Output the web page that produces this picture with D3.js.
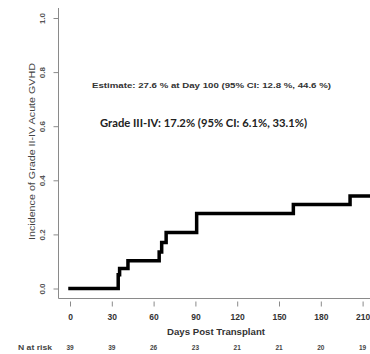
<!DOCTYPE html>
<html><head><meta charset="utf-8">
<script src="https://cdn.jsdelivr.net/npm/d3@7"></script>
<style>body{margin:0;background:#fff;} svg{display:block;}</style>
</head><body>
<svg id="c" width="370" height="354"></svg>
<script>
const xTicks = [0, 30, 60, 90, 120, 150, 180, 210];
const yTicks = [0.0, 0.2, 0.4, 0.6, 0.8, 1.0];
const nAtRisk = [39, 39, 26, 23, 21, 21, 20, 19];
const stepDays = [0, 34.6, 35.6, 41.6, 64, 65.8, 69, 90.9, 160.3, 201, 220];
const stepValues = [0, 0.051, 0.074, 0.103, 0.135, 0.17, 0.207, 0.277, 0.311, 0.342, 0.342];
const estimateText = "Estimate: 27.6 % at Day 100  (95% CI: 12.8 %, 44.6 %)";
const gradeText = "Grade III-IV: 17.2% (95% CI: 6.1%, 33.1%)";
const xTitle = "Days Post Transplant";
const yTitle = "Incidence of Grade II-IV Acute GVHD";
const riskLabel = "N at risk";

const svg = d3.select("#c");
const x = d3.scaleLinear().domain([0, 210]).range([70, 362.6]);
const y = d3.scaleLinear().domain([0, 1]).range([288.5, 18]);
const SANS = "Liberation Sans, Arial, sans-serif";

// L-shaped frame
svg.append("line").attr("x1", 58.5).attr("x2", 58.5).attr("y1", 8).attr("y2", 298.5)
  .attr("stroke", "#8a8a8a").attr("stroke-width", 1);
svg.append("line").attr("x1", 58.5).attr("x2", 370).attr("y1", 298.5).attr("y2", 298.5)
  .attr("stroke", "#8a8a8a").attr("stroke-width", 1);

// y axis ticks & labels
const yAxis = d3.axisLeft(y).tickValues(yTicks).tickSize(5).tickFormat(d3.format(".1f"));
const gy = svg.append("g").attr("transform", "translate(58.5,0)").call(yAxis);
gy.select(".domain").remove();
gy.selectAll(".tick line").attr("stroke", "#8a8a8a");
gy.selectAll(".tick text").remove();
gy.selectAll(".tick").append("text")
  .attr("transform", "translate(-16,0) rotate(-90)")
  .attr("text-anchor", "middle").attr("dy", "0.35em")
  .attr("font-family", SANS).attr("font-size", 8).attr("font-weight", "bold")
  .attr("fill", "#555").text(d => d3.format(".1f")(d));

// x axis ticks & labels
const xAxis = d3.axisBottom(x).tickValues(xTicks).tickSize(5).tickFormat(d3.format("d"));
const gx = svg.append("g").attr("transform", "translate(0,301.5)").call(xAxis);
gx.select(".domain").remove();
gx.selectAll(".tick line").attr("stroke", "#8a8a8a");
gx.selectAll(".tick text").attr("y", 0).attr("dy", "0").attr("transform", "translate(0,18.5)")
  .attr("font-family", SANS).attr("font-size", 8.5).attr("font-weight", "bold")
  .attr("fill", "#333");

// titles
svg.append("text").attr("x", 167).attr("y", 335).attr("textLength", 98).attr("lengthAdjust", "spacingAndGlyphs")
  .attr("font-family", SANS).attr("font-size", 9).attr("font-weight", "bold")
  .attr("fill", "#333").text(xTitle);
svg.append("text").attr("transform", "translate(35,240) rotate(-90)")
  .attr("textLength", 177).attr("lengthAdjust", "spacingAndGlyphs")
  .attr("font-family", SANS).attr("font-size", 9.5)
  .attr("fill", "#444").text(yTitle);

// N at risk
svg.append("text").attr("x", 18).attr("y", 350).attr("textLength", 34).attr("lengthAdjust", "spacingAndGlyphs")
  .attr("font-family", SANS).attr("font-size", 6.5).attr("font-weight", "bold")
  .attr("fill", "#444").text(riskLabel);
svg.append("g").selectAll("text").data(nAtRisk).join("text")
  .attr("x", (d, i) => x(xTicks[i])).attr("y", 350).attr("text-anchor", "middle")
  .attr("font-family", SANS).attr("font-size", 6.5).attr("font-weight", "bold")
  .attr("fill", "#444").text(d => d);

// annotations
svg.append("text").attr("x", 92).attr("y", 88).attr("textLength", 239).attr("lengthAdjust", "spacingAndGlyphs")
  .attr("font-family", SANS).attr("font-size", 7.5).attr("font-weight", "bold")
  .attr("fill", "#333").text(estimateText);
svg.append("text").attr("x", 100).attr("y", 127).attr("textLength", 207).attr("lengthAdjust", "spacingAndGlyphs")
  .attr("font-family", "Lato, Noto Sans, sans-serif").attr("font-size", 11.5).attr("font-weight", "bold")
  .attr("fill", "#222").text(gradeText);

// curve
const pts = stepDays.map((d, i) => [d, stepValues[i]]);
const line = d3.line().x(d => x(d[0])).y(d => y(d[1])).curve(d3.curveStepAfter);
svg.append("path").datum(pts).attr("d", line)
  .attr("fill", "none").attr("stroke", "#000").attr("stroke-width", 3.5)
  .attr("stroke-linejoin", "miter").attr("stroke-linecap", "square");
</script>
</body></html>
